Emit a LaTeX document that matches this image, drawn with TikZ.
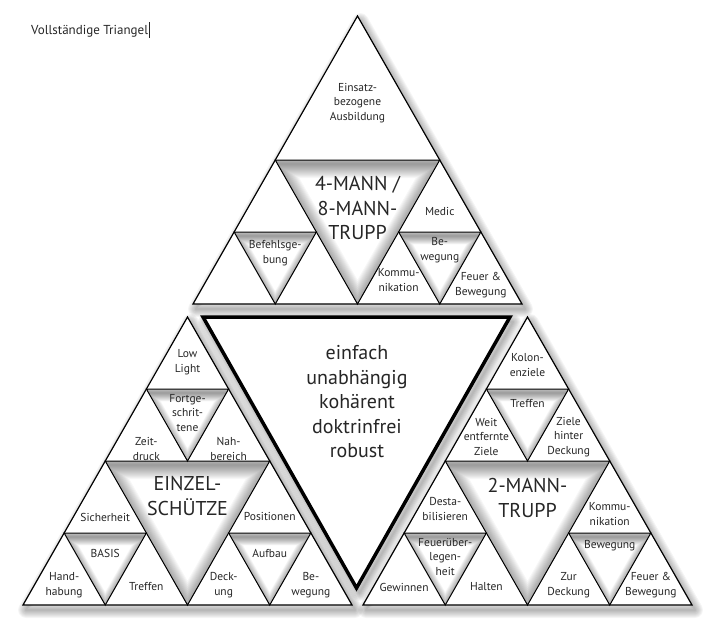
\documentclass[tikz,border=0pt]{standalone}
\usepackage{fontspec}
\setmainfont{PT Sans}

% drop shadow below a big triangle
\newcommand{\schatten}[3]{%
  \foreach \w in {2,4,...,16}
    \draw[black, opacity=0.04, line width=\w pt, line join=round]
      ([shift={(3,5)}]#1) -- ([shift={(3,5)}]#2) -- ([shift={(3,5)}]#3) -- cycle;}

% inverted triangle with inner shadow
\newcommand{\innentri}[4][0.6]{%
  \begin{scope}
    \clip (#2) -- (#3) -- (#4) -- cycle;
    \fill[white] (#2) -- (#3) -- (#4) -- cycle;
    \foreach \w in {2,4,...,28}
      \draw[black, opacity=0.03, line width=#1*\w pt, line join=round]
        ([yshift=-4pt]#2) -- ([yshift=-4pt]#3) -- ([yshift=-4pt]#4) -- cycle;
  \end{scope}
  \draw[line width=1pt] (#2) -- (#3) -- (#4) -- cycle;}

\begin{document}
\begin{tikzpicture}[
  x=1pt, y=-1pt,
  lbl/.style={font=\fontsize{11.5}{14.5}\selectfont, text=black!85, align=center, inner sep=0pt},
  gross/.style={font=\fontsize{20}{24.5}\selectfont, text=black!85, align=center, inner sep=0pt},
  aussen/.style={draw, fill=white, line width=1.2pt, line join=miter},
]
  \useasboundingbox (0,0) rectangle (720,626);

  % lattice points of the three big triangles
  \foreach \nm/\ax/\ay in {T/357.5/16, L/187.5/317, R/527.5/317}
    \foreach \j in {0,...,4}
      \foreach \i in {0,...,\j}
        \coordinate (\nm\j\i) at ({\ax+(\i-\j/2)*82.25},{\ay+\j*72});
  \coordinate (M1) at (203,317);
  \coordinate (M2) at (510,317);
  \coordinate (M3) at (356.5,588);

  \node[anchor=base west, font=\fontsize{13}{15}\selectfont, text=black!85, inner sep=0pt]
    (titel) at (31,35) {Vollständige Triangel\kern1pt\rule[-3pt]{0.8pt}{16pt}};

  % shadows
  \schatten{T00}{T40}{T44}
  \schatten{L00}{L40}{L44}
  \schatten{R00}{R40}{R44}
  \schatten{M1}{M2}{M3}

  % 4-Mann / 8-Mann
  \filldraw[aussen] (T00) -- (T40) -- (T44) -- cycle;
  \innentri[1]{T20}{T22}{T42}
  \innentri{T30}{T31}{T41}
  \innentri{T32}{T33}{T43}

  % Einzelschuetze
  \filldraw[aussen] (L00) -- (L40) -- (L44) -- cycle;
  \innentri[1]{L20}{L22}{L42}
  \innentri{L10}{L11}{L21}
  \innentri{L30}{L31}{L41}
  \innentri{L32}{L33}{L43}

  % 2-Mann
  \filldraw[aussen] (R00) -- (R40) -- (R44) -- cycle;
  \innentri[1]{R20}{R22}{R42}
  \innentri{R10}{R11}{R21}
  \innentri{R30}{R31}{R41}
  \innentri{R32}{R33}{R43}

  % centre
  \filldraw[fill=white, draw=black, line width=3.5pt, line join=miter] (M1) -- (M2) -- (M3) -- cycle;
  \node[gross] (werte) at (357,402) {einfach\\unabhängig\\kohärent\\doktrinfrei\\robust};

  % labels top
  \node[lbl, yshift=9pt] (einsatz) at (barycentric cs:T00=1,T20=1,T22=1) {Einsatz-\\bezogene\\Ausbildung};
  \node[gross] (viermann) at (barycentric cs:T20=1,T22=1,T42=1) {4-MANN /\\8-MANN-\\TRUPP};
  \node[lbl, yshift=3pt] (befehl) at (barycentric cs:T30=1,T31=1,T41=1) {Befehlsge-\\bung};
  \node[lbl, yshift=-3pt] (medic) at (barycentric cs:T22=1,T32=1,T33=1) {Medic};
  \node[lbl, yshift=6pt] (tbeweg) at (barycentric cs:T32=1,T33=1,T43=1) {Be-\\wegung};
  \node[lbl] (tkomm) at (barycentric cs:T32=1,T42=1,T43=1) {Kommu-\\nikation};
  \node[lbl, yshift=-5pt] (tfeuer) at (barycentric cs:T33=1,T43=1,T44=1) {Feuer \&\\Bewegung};

  % labels left
  \node[lbl, yshift=3pt] (lowlight) at (barycentric cs:L00=1,L10=1,L11=1) {Low\\Light};
  \node[lbl] (fortg) at (barycentric cs:L10=1,L11=1,L21=1) {Fortge-\\schrit-\\tene};
  \node[lbl, yshift=-12pt] (zeit) at (barycentric cs:L10=1,L20=1,L21=1) {Zeit-\\druck};
  \node[lbl, yshift=-12pt] (nah) at (barycentric cs:L11=1,L21=1,L22=1) {Nah-\\bereich};
  \node[gross, yshift=13pt] (einzel) at (barycentric cs:L20=1,L22=1,L42=1) {EINZEL-\\SCHÜTZE};
  \node[lbl, yshift=-8pt] (sicher) at (barycentric cs:L20=1,L30=1,L31=1) {Sicherheit};
  \node[lbl, yshift=4pt] (basis) at (barycentric cs:L30=1,L31=1,L41=1) {BASIS};
  \node[lbl, yshift=-4pt] (hand) at (barycentric cs:L30=1,L40=1,L41=1) {Hand-\\habung};
  \node[lbl, yshift=-6pt] (ltreff) at (barycentric cs:L31=1,L41=1,L42=1) {Treffen};
  \node[lbl, yshift=-8pt] (position) at (barycentric cs:L22=1,L32=1,L33=1) {Positionen};
  \node[lbl, yshift=4pt] (aufbau) at (barycentric cs:L32=1,L33=1,L43=1) {Aufbau};
  \node[lbl, yshift=-4pt, xshift=-5pt] (deck) at (barycentric cs:L32=1,L42=1,L43=1) {Deck-\\ung};
  \node[lbl, yshift=-4pt] (lbeweg) at (barycentric cs:L33=1,L43=1,L44=1) {Be-\\wegung};

  % labels right
  \node[lbl] (kolon) at (barycentric cs:R00=1,R10=1,R11=1) {Kolon-\\enziele};
  \node[lbl, yshift=9pt] (rtreff) at (barycentric cs:R10=1,R11=1,R21=1) {Treffen};
  \node[lbl] (weit) at (barycentric cs:R10=1,R20=1,R21=1) {Weit\\entfernte\\Ziele};
  \node[lbl] (hinter) at (barycentric cs:R11=1,R21=1,R22=1) {Ziele\\hinter\\Deckung};
  \node[gross, yshift=11pt] (zweimann) at (barycentric cs:R20=1,R22=1,R42=1) {2-MANN-\\TRUPP};
  \node[lbl] (destab) at (barycentric cs:R20=1,R30=1,R31=1) {Desta-\\bilisieren};
  \node[lbl] (feuerueb) at (barycentric cs:R30=1,R31=1,R41=1) {Feuerüber-\\legen-\\heit};
  \node[lbl, yshift=-6pt] (gewinn) at (barycentric cs:R30=1,R40=1,R41=1) {Gewinnen};
  \node[lbl, yshift=-6pt] (halten) at (barycentric cs:R31=1,R41=1,R42=1) {Halten};
  \node[lbl, yshift=-5pt] (rkomm) at (barycentric cs:R22=1,R32=1,R33=1) {Kommu-\\nikation};
  \node[lbl, yshift=11pt] (rbeweg) at (barycentric cs:R32=1,R33=1,R43=1) {Bewegung};
  \node[lbl, yshift=-4pt] (zur) at (barycentric cs:R32=1,R42=1,R43=1) {Zur\\Deckung};
  \node[lbl, yshift=-4pt] (rfeuer) at (barycentric cs:R33=1,R43=1,R44=1) {Feuer \&\\Bewegung};
\end{tikzpicture}
\end{document}
